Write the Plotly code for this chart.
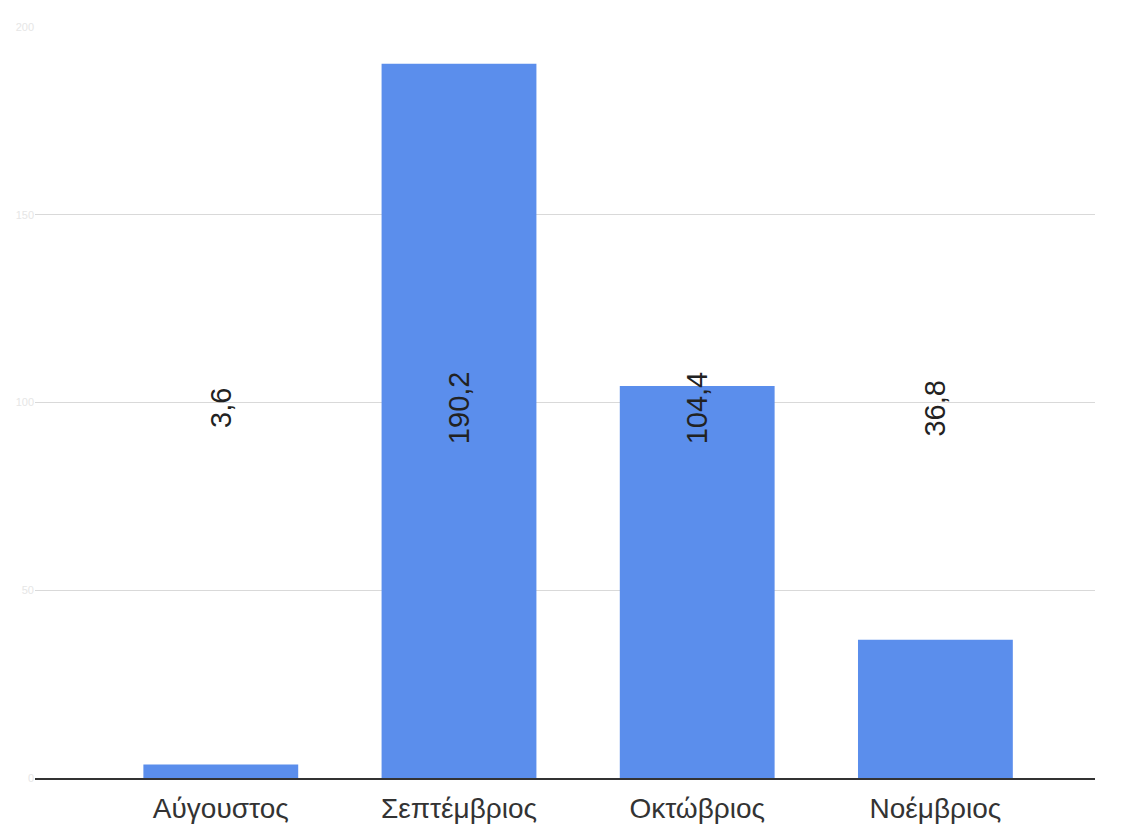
import plotly.graph_objects as go

# Monthly values
months = ["Αύγουστος", "Σεπτέμβριος", "Οκτώβριος", "Νοέμβριος"]
values = [3.6, 190.2, 104.4, 36.8]
value_labels = ["3,6", "190,2", "104,4", "36,8"]
y_ticks = [0, 50, 100, 150, 200]

fig = go.Figure()
fig.add_trace(go.Bar(
    x=months,
    y=values,
    marker=dict(color="#5b8eec", line=dict(width=0)),
    hoverinfo="x+y",
))

# Value labels sit at a fixed height in the middle of the plot, rotated
for m, lab in zip(months, value_labels):
    fig.add_annotation(
        x=m, y=98.5, text=lab, textangle=-90, showarrow=False,
        font=dict(family="Liberation Sans, Arial, sans-serif", size=29, color="#222"),
        xanchor="center", yanchor="middle",
    )

fig.update_layout(
    width=1139, height=825,
    margin=dict(l=35, r=44, t=27, b=47, autoexpand=False),
    paper_bgcolor="white", plot_bgcolor="white",
    bargap=0.35,
    showlegend=False,
    font=dict(family="Liberation Sans, Arial, sans-serif"),
)
fig.update_xaxes(
    range=[-0.78, 3.67],
    automargin=False,
    showgrid=False,
    showline=True, linecolor="#333", linewidth=2,
    ticks="",
    ticklabelstandoff=4,
    tickfont=dict(family="Liberation Sans, Arial, sans-serif", size=28, color="#333"),
)
fig.update_yaxes(
    range=[0, 200],
    automargin=False,
    tickvals=y_ticks,
    showgrid=True, gridcolor="#d9d9d9", gridwidth=1,
    zeroline=False,
    tickfont=dict(size=11, color="#e6e6e6"),
)

fig.write_html("out.html")
